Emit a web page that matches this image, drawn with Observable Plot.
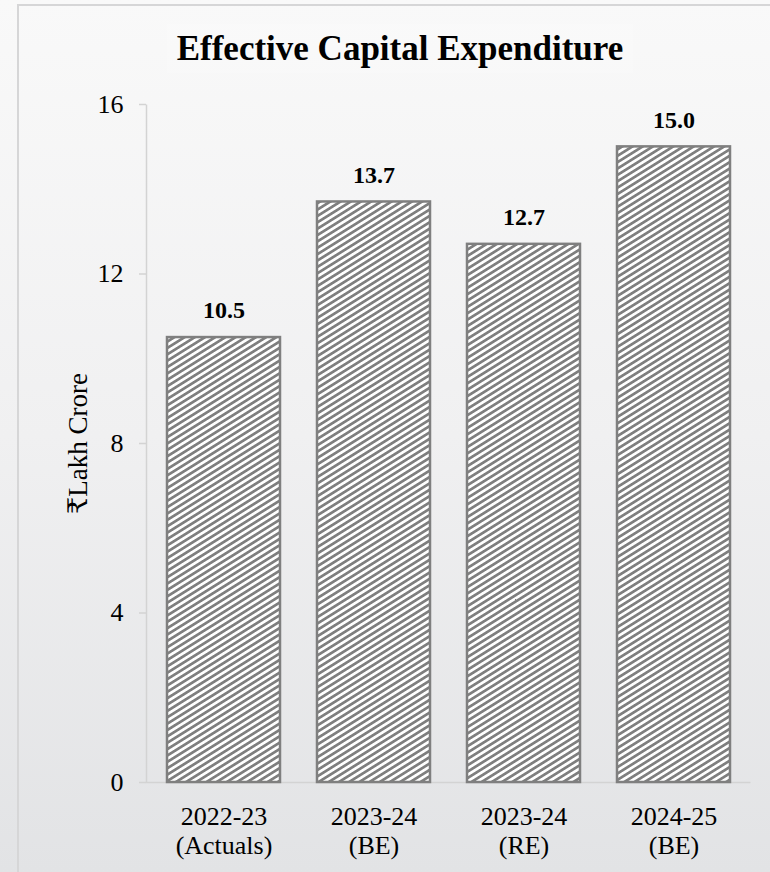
<!DOCTYPE html>
<html>
<head>
<meta charset="utf-8">
<script src="https://cdn.jsdelivr.net/npm/d3@7"></script>
<script src="https://cdn.jsdelivr.net/npm/@observablehq/plot@0.6"></script>
<style>
  html, body { margin: 0; padding: 0; }
  #page {
    position: relative;
    width: 770px;
    height: 872px;
    overflow: hidden;
    background: linear-gradient(to bottom, #f9f9f9 0%, #f0f0f1 50%, #e2e3e5 100%);
    font-family: "Liberation Serif", "DejaVu Serif", serif;
  }
  #border {
    position: absolute;
    left: 17px; top: 4px; right: -10px; bottom: -10px;
    border: 2px solid #d6d6d7;
  }
  #title {
    position: absolute;
    left: 167px; top: 24px; width: 466px; height: 49px;
    background: rgba(255, 255, 255, 0.2);
    text-align: center;
    font-family: "Liberation Serif", "DejaVu Serif", serif;
    font-weight: bold;
    font-size: 35px;
    line-height: 49px;
    color: #000;
  }
  #chart { position: absolute; left: 0; top: 88px; }
  #chart svg, #chart svg text { font-family: "Liberation Serif", "DejaVu Serif", serif; }
</style>
</head>
<body>
<div id="page">
  <div id="border"></div>
  <div id="title">Effective Capital Expenditure</div>
  <div id="chart"></div>
</div>
<script>
// Effective capital expenditure, ₹ lakh crore
const periods = ["2022-23\n(Actuals)", "2023-24\n(BE)", "2023-24\n(RE)", "2024-25\n(BE)"];
const values = [10.5, 13.7, 12.7, 15.0];
const yTicks = [0, 4, 8, 12, 16];
const yLabel = "₹Lakh Crore";

const data = periods.map((p, i) => ({period: p, value: values[i]}));

const W = 770, H = 784;
const mL = 146, mR = 20, mT = 16, mB = 90;
const fw = W - mL - mR, fh = H - mT - mB;

const svg = Plot.plot({
  width: W,
  height: H,
  marginLeft: mL,
  marginRight: mR,
  marginTop: mT,
  marginBottom: mB,
  style: {background: "transparent", overflow: "visible", fontFamily: "'Liberation Serif', 'DejaVu Serif', serif"},
  x: {domain: periods, paddingInner: 0.25, paddingOuter: 0.13},
  y: {domain: [0, 16]},
  marks: [
    // left and bottom axis lines only
    Plot.frame({stroke: "#d3d3d3", strokeWidth: 1.5, strokeDasharray: `0 ${fw + fh} ${fw + fh}`}),
    Plot.axisY({ticks: yTicks, tickSize: 7, tickPadding: 16, fontSize: 26, stroke: "#d3d3d3", strokeWidth: 1.5, color: "#000", label: null}),
    Plot.axisX({tickSize: 0, tickPadding: 22, fontSize: 26, lineHeight: 1.12, color: "#000", label: null}),
    Plot.barY(data, {x: "period", y: "value", fill: "url(#hatch)", stroke: "#7f7f7f", strokeWidth: 2.5}),
    Plot.text(data, {x: "period", y: "value", text: d => d.value.toFixed(1), dy: -27, fontSize: 24, fontWeight: "bold", fill: "#000"}),
    Plot.text([yLabel], {frameAnchor: "left", textAnchor: "middle", rotate: -90, dx: -68, fontSize: 27, fill: "#000"})
  ]
});

// diagonal hatch fill for the bars
const P = 5.4;
const defs = d3.select(svg).insert("defs", ":first-child");
const pat = defs.append("pattern")
  .attr("id", "hatch")
  .attr("patternUnits", "userSpaceOnUse")
  .attr("width", P)
  .attr("height", P)
  .attr("patternTransform", "rotate(-32)");
pat.append("rect").attr("width", P).attr("height", P).attr("fill", "#ffffff");
pat.append("rect").attr("width", P).attr("height", P / 2).attr("fill", "#7f7f7f");

document.getElementById("chart").appendChild(svg);
</script>
</body>
</html>
